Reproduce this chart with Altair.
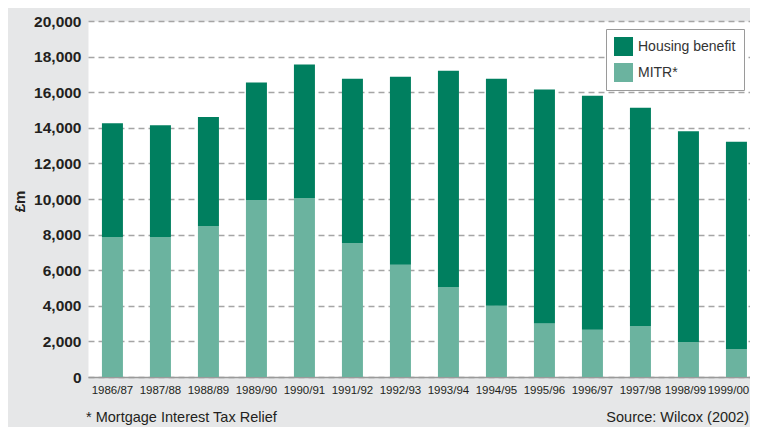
import altair as alt
import pandas as pd

years = ["1986/87", "1987/88", "1988/89", "1989/90", "1990/91", "1991/92", "1992/93",
         "1993/94", "1994/95", "1995/96", "1996/97", "1997/98", "1998/99", "1999/00"]
housing_benefit = [6380, 6280, 6120, 6600, 7500, 9220, 10570, 12150, 12750, 13150, 13150, 12260, 11830, 11640]
mitr = [7870, 7870, 8480, 9950, 10050, 7530, 6300, 5050, 4000, 3000, 2650, 2870, 1970, 1580]
series_names = ["Housing benefit", "MITR*"]
series_colors = ["#007f5f", "#6bb39f"]
y_ticks = [0, 2000, 4000, 6000, 8000, 10000, 12000, 14000, 16000, 18000, 20000]
y_title = "£m"
footnote = "* Mortgage Interest Tax Relief"
source = "Source: Wilcox (2002)"

FONT = "Liberation Sans"

rows = []
for yr, hb, m in zip(years, housing_benefit, mitr):
    rows.append({"year": yr, "series": "MITR*", "value": m, "ord": 0})
    rows.append({"year": yr, "series": "Housing benefit", "value": hb, "ord": 1})
df = pd.DataFrame(rows)

bars = alt.Chart(df).mark_bar().encode(
    x=alt.X(
        "year:N", sort=years,
        scale=alt.Scale(paddingInner=0.5625, paddingOuter=0.177, align=0.82),
        axis=alt.Axis(title=None, labelAngle=0, ticks=False, grid=False, domain=True,
                      domainColor="#9a9a9a", domainWidth=1.5, labelFont=FONT,
                      labelFontSize=11.5, labelColor="#231f20", labelPadding=7,
                      labelOverlap=False,
                      labelOffset={"condition": [
                          {"test": "datum.value === '1999/00'", "value": -8},
                          {"test": "datum.value === '1998/99'", "value": -3}],
                          "value": 0}),
    ),
    y=alt.Y(
        "value:Q", stack="zero",
        scale=alt.Scale(domain=[0, 20000], nice=False),
        axis=alt.Axis(values=y_ticks, format=",d", title=y_title, grid=True,
                      gridDash=[6, 4], gridColor="#a5a5a5", gridWidth=1.3,
                      domain=False, ticks=False, labelPadding=7, labelFont=FONT,
                      labelFontSize=15.5, labelFontWeight="bold", labelColor="#231f20",
                      titleFont=FONT, titleFontSize=15, titleFontWeight="bold",
                      titleColor="#231f20", titleX=-69, titleY=180, titleAngle=270,
                      titleAlign="center", titleBaseline="middle"),
    ),
    color=alt.Color(
        "series:N",
        scale=alt.Scale(domain=series_names, range=series_colors),
        legend=alt.Legend(title=None, orient="none", legendX=518, legendY=8,
                          symbolType="square", symbolSize=361, symbolStrokeWidth=0,
                          labelFont=FONT, labelFontSize=14, labelColor="#333333",
                          padding=8, strokeColor="#9a9a9a", fillColor="white",
                          rowPadding=7, labelOffset=5, symbolOpacity=1),
    ),
    order=alt.Order("ord:Q", sort="ascending"),
)

foot = alt.Chart(alt.Data(values=[{}])).mark_text(
    text=footnote, align="left", baseline="alphabetic", fontSize=14.5, font=FONT,
    color="#231f20",
).encode(x=alt.value(-2), y=alt.value(401))

src = alt.Chart(alt.Data(values=[{}])).mark_text(
    text=source, align="right", baseline="alphabetic", fontSize=14.5, font=FONT,
    color="#231f20",
).encode(x=alt.value(661), y=alt.value(401))

chart = alt.layer(bars, foot, src).properties(
    width=662, height=356,
    padding={"left": 80, "top": 13, "right": 0, "bottom": 50},
    autosize=alt.AutoSizeParams(type="none"),
    background="#e6e7e8",
).configure_view(fill="white", stroke="transparent")

chart.save("out.html", embed_options={"renderer": "svg", "actions": False})
